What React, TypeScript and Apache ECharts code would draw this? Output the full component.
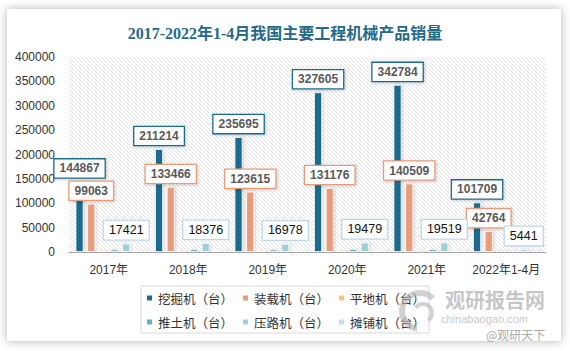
import React, { useEffect, useRef } from "react";
import * as echarts from "echarts";

const categories = ["2017年", "2018年", "2019年", "2020年", "2021年", "2022年1-4月"];
const excavator = [144867, 211214, 235695, 327605, 342784, 101709];
const loader = [99063, 133466, 123615, 131176, 140509, 42764];
const grader = [4200, 4400, 4100, 4300, 4500, 1200];
const bulldozer = [5600, 6100, 5400, 6300, 6100, 1500];
const roller = [17421, 18376, 16978, 19479, 19519, 5441];
const paver = [2000, 2300, 2100, 2500, 2600, 700];
const seriesNames = ["挖掘机（台）", "装载机（台）", "平地机（台）", "推土机（台）", "压路机（台）", "摊铺机（台）"];
const colors = ["#1f6a8d", "#e89c7c", "#fdc27a", "#62b3c3", "#a0d0d6", "#c6e0e6"];
const yTicks = { min: 0, max: 400000, interval: 50000 };

function makePattern() {
  const c = document.createElement("canvas");
  c.width = 4;
  c.height = 4;
  const ctx = c.getContext("2d");
  if (ctx) {
    ctx.fillStyle = "#ffffff";
    ctx.fillRect(0, 0, 4, 4);
    ctx.strokeStyle = "#e0e0e0";
    ctx.lineWidth = 0.9;
    ctx.beginPath();
    ctx.moveTo(-1, -1);
    ctx.lineTo(5, 5);
    ctx.moveTo(-1, 3);
    ctx.lineTo(1, 5);
    ctx.moveTo(3, -1);
    ctx.lineTo(5, 1);
    ctx.stroke();
  }
  return { image: c, repeat: "repeat", imageWidth: 4, imageHeight: 4 };
}

export default function App() {
  const ref = useRef<HTMLDivElement>(null);
  useEffect(() => {
    if (!ref.current) return;
    const chart = echarts.init(ref.current, null, { renderer: "svg" });
    const font = "'Liberation Sans', 'Noto Sans CJK SC', sans-serif";
    const labelFor = (i: number) => {
      if (i === 0 || i === 1) {
        return {
          show: true,
          position: "top",
          distance: 4,
          color: "#595959",
          fontWeight: "bold",
          fontSize: 12,
          fontFamily: font,
          backgroundColor: "#ffffff",
          borderColor: colors[i],
          borderWidth: 1.3,
          padding: [3, 5],
          shadowColor: "rgba(0,0,0,0.2)",
          shadowBlur: 3,
          shadowOffsetX: 1,
          shadowOffsetY: 1,
        };
      }
      if (i === 4) {
        return {
          show: true,
          position: "top",
          distance: 4,
          color: "#111111",
          fontSize: 12.5,
          fontFamily: font,
          backgroundColor: "#ffffff",
          borderColor: "#bdd7ee",
          borderWidth: 1.3,
          padding: [3, 5],
        };
      }
      return { show: false };
    };
    const data = [excavator, loader, grader, bulldozer, roller, paver];
    chart.setOption({
      animation: false,
      graphic: [
        {
          type: "rect",
          z: -10,
          shape: { x: 7, y: 9, width: 554, height: 332 },
          style: { fill: "#ffffff", shadowBlur: 10, shadowColor: "rgba(0,0,0,0.3)" },
        },
        {
          type: "arc",
          z: 10,
          shape: { cx: 420, cy: 311, r: 18, startAngle: Math.PI * 0.55, endAngle: Math.PI * 1.75 },
          style: { stroke: "rgba(180,180,180,0.6)", lineWidth: 6, fill: "none" },
        },
        {
          type: "arc",
          z: 10,
          shape: { cx: 423, cy: 313, r: 9, startAngle: Math.PI * 1.2, endAngle: Math.PI * 2.3 },
          style: { stroke: "rgba(180,180,180,0.6)", lineWidth: 4, fill: "none" },
        },
        {
          type: "text",
          z: 10,
          left: 445,
          top: 289,
          style: {
            text: "观研报告网",
            fill: "rgba(160,160,160,0.6)",
            font: "bold 20px 'Noto Sans CJK SC', sans-serif",
          },
        },
        {
          type: "text",
          z: 10,
          left: 441,
          top: 313,
          style: {
            text: "chinabaogao.com",
            fill: "rgba(160,160,160,0.6)",
            font: "11px 'Liberation Sans', sans-serif",
          },
        },
        {
          type: "text",
          z: 11,
          left: 486,
          top: 328,
          style: {
            text: "@观研天下",
            fill: "rgba(130,130,130,0.7)",
            font: "12px 'Noto Sans CJK SC', sans-serif",
          },
        },
      ],
      title: {
        text: "2017-2022年1-4月我国主要工程机械产品销量",
        left: "center",
        top: 20,
        textStyle: {
          color: "#236a8a",
          fontSize: 16,
          fontWeight: "bold",
          fontFamily: "'Liberation Serif', 'Noto Sans CJK SC', serif",
        },
      },
      legend: {
        data: seriesNames,
        left: 141,
        top: 286,
        width: 290,
        padding: [4, 4, 3, 4],
        itemGap: 8,
        itemWidth: 7,
        itemHeight: 7,
        icon: "rect",
        borderColor: "#d9d9d9",
        borderWidth: 1,
        textStyle: {
          color: "#333333",
          fontSize: 12.5,
          lineHeight: 16,
          fontFamily: "'Noto Sans CJK SC', sans-serif",
        },
      },
      grid: {
        left: 69,
        right: 24,
        top: 57,
        bottom: 99,
        show: true,
        borderWidth: 0,
        backgroundColor: makePattern(),
      },
      xAxis: {
        type: "category",
        data: categories,
        axisLine: { lineStyle: { color: "#a6a6a6", width: 1 } },
        axisTick: { show: false },
        axisLabel: { color: "#333333", fontSize: 12, margin: 12, interval: 0, fontFamily: font },
      },
      yAxis: {
        type: "value",
        min: yTicks.min,
        max: yTicks.max,
        interval: yTicks.interval,
        axisLine: { show: false },
        axisTick: { show: false },
        splitLine: { show: false },
        axisLabel: {
          color: "#333333",
          fontSize: 12,
          margin: 14,
          fontFamily: font,
          formatter: (v: number) => String(v),
        },
      },
      series: data.map((d, i) => ({
        name: seriesNames[i],
        type: "bar",
        data: d,
        barWidth: 8,
        barGap: "46%",
        itemStyle: {
          color: colors[i],
          borderColor: "#ffffff",
          borderWidth: 0.8,
          shadowColor: "rgba(0,0,0,0.18)",
          shadowBlur: 3,
          shadowOffsetX: 1,
        },
        label: labelFor(i),
      })),
    });
    return () => chart.dispose();
  }, []);
  return (
    <div style={{ position: "fixed", left: 0, top: 0, width: 570, height: 351, background: "#ffffff" }}>
      <div ref={ref} style={{ width: 570, height: 351 }} />
    </div>
  );
}
